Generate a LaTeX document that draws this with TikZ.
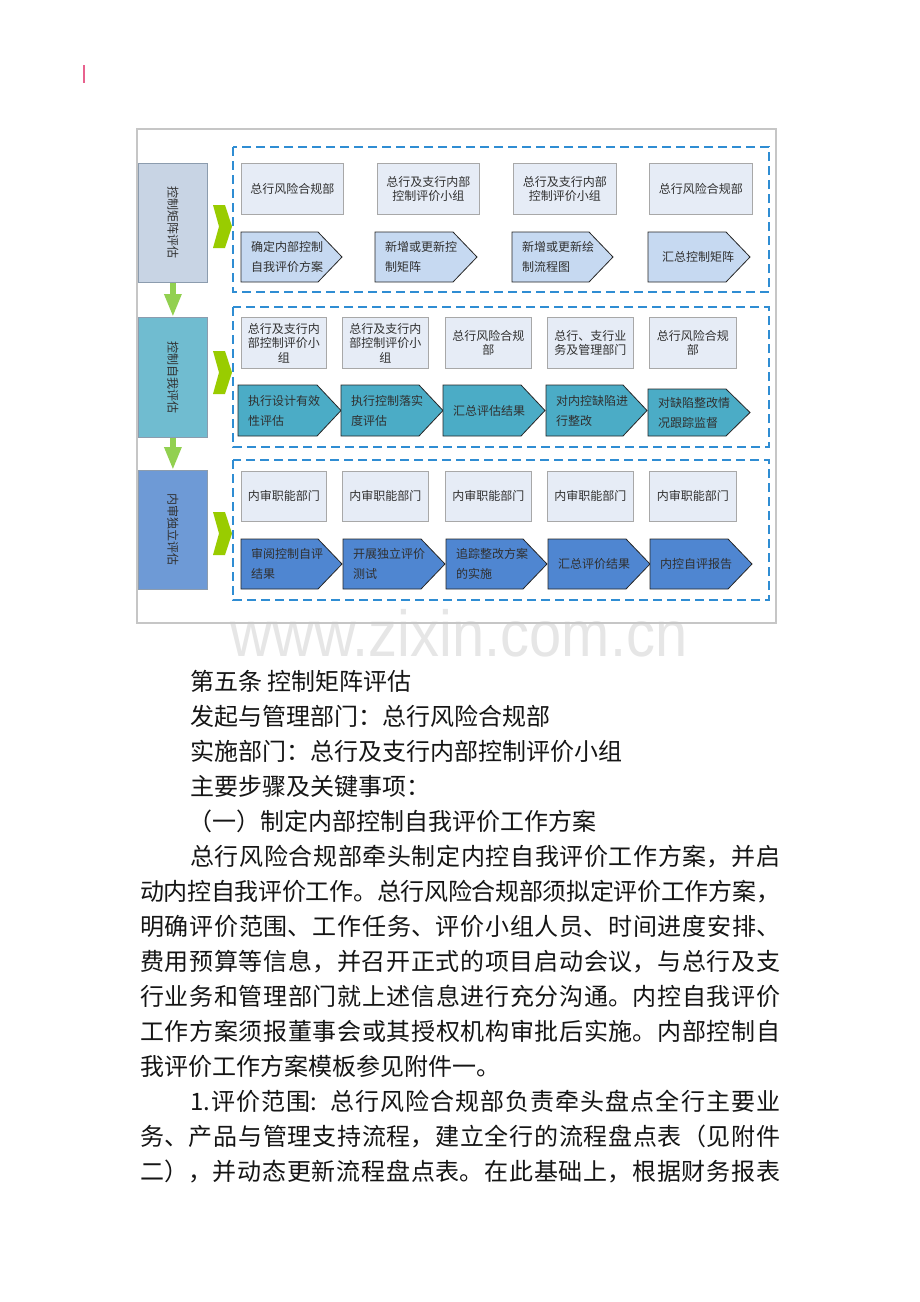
\documentclass[tikz,border=0pt]{standalone}
\usepackage{fontspec}
\setmainfont{Noto Sans CJK SC}
\newfontfamily\wmfont{Liberation Sans}
\usepackage{xcolor}
\usetikzlibrary{arrows.meta,positioning}
\XeTeXlinebreaklocale "zh"

\definecolor{framegray}{HTML}{C6C6C6}
\definecolor{groupblue}{HTML}{2F8DD3}
\definecolor{stagefillA}{HTML}{C8D4E4}
\definecolor{stagefillB}{HTML}{70BCD0}
\definecolor{stagefillC}{HTML}{6E9AD6}
\definecolor{stageline}{HTML}{8C9CAE}
\definecolor{gochevgreen}{HTML}{99CC00}
\definecolor{downgreen}{HTML}{92D050}
\definecolor{deptfill}{HTML}{E6ECF6}
\definecolor{deptline}{HTML}{A8A8A8}
\definecolor{chevfillA}{HTML}{C6D9F1}
\definecolor{chevfillB}{HTML}{4BACC6}
\definecolor{chevfillC}{HTML}{4F86D1}
\definecolor{chevline}{HTML}{262626}
\definecolor{txtgray}{HTML}{303030}
\definecolor{bodyblack}{HTML}{151515}
\definecolor{wmgray}{HTML}{E6E6E6}
\definecolor{markred}{HTML}{E8628E}

% pentagon step: name, left x, top y, width, height, fill, text
\newcommand{\stepchev}[7]{%
  \draw[fill=#6, draw=chevline, line width=0.8pt]
    (#2,#3) -- ++(#4-24,0) -- ++(24,#5/2) -- ++(-24,#5/2) -- ++(-#4+24,0) -- cycle;
  \node[steptext] (#1) at (#2+10,#3+#5/2) {#7};}
% green marker left of each group
\newcommand{\gochev}[2]{%
  \fill[gochevgreen] (#1,#2) -- ++(12,0) -- ++(7,21.5) -- ++(-7,21.5) -- ++(-12,0) -- ++(6,-21.5) -- cycle;}
% justified body line
\newcommand{\fullline}[2]{\parbox[b]{#1}{\linepenalty=5000\parfillskip=0pt
  \XeTeXlinebreakskip=0pt plus 1fil minus 0.6pt\relax #2}}

\begin{document}
\begin{tikzpicture}[x=1pt,y=-1pt]
  \tikzstyle{stagebox} = [rectangle, draw=stageline, line width=0.8pt, minimum width=69pt, minimum height=119pt, anchor=north west, inner sep=0pt]
  \tikzstyle{stagetext} = [rotate=-90, font=\fontsize{12}{12}\selectfont, text=txtgray]
  \tikzstyle{deptbox} = [rectangle, draw=deptline, fill=deptfill, line width=0.8pt, minimum height=51pt, anchor=north west, align=center, inner sep=0pt, font=\fontsize{12}{14.4}\selectfont, text=txtgray]
  \tikzstyle{steptext} = [anchor=west, align=left, inner sep=0pt, font=\fontsize{12}{20}\selectfont, text=txtgray]
  \tikzstyle{groupbox} = [draw=groupblue, line width=1.6pt, dash pattern=on 9pt off 5pt]
  \tikzstyle{downarrow} = [draw=downgreen, line width=6pt, -{Triangle[width=16pt,length=23pt]}]
  \tikzstyle{bodyline} = [anchor=base west, inner sep=0pt, font=\fontsize{24}{24}\selectfont, text=bodyblack]

  \useasboundingbox (0,0) rectangle (920,1302);
  \fill[white] (0,0) rectangle (920,1302);

  % watermark
  \node[anchor=base, inner sep=0pt, xscale=0.89, font=\wmfont\fontsize{65}{65}\selectfont, text=wmgray] (wm) at (459,656) {www.zixin.com.cn};

  \draw[markred, line width=2pt] (83.5,65) -- (83.5,83);
  \draw[framegray, line width=1.4pt] (137,129) rectangle (776,623);

  % groups
  \draw[groupbox] (233,147) rectangle (769,292);
  \draw[groupbox] (233,307) rectangle (769,447);
  \draw[groupbox] (233,460) rectangle (769,600);

  % stages
  \node[stagebox, fill=stagefillA] (stageA) at (138,163) {};
  \node[stagebox, fill=stagefillB, minimum height=120pt] (stageB) at (138,317) {};
  \node[stagebox, fill=stagefillC] (stageC) at (138,470) {};
  \node[stagetext] (stageAtxt) at (stageA.center) {控制矩阵评估};
  \node[stagetext] (stageBtxt) at (stageB.center) {控制自我评估};
  \node[stagetext] (stageCtxt) at (stageC.center) {内审独立评估};
  \draw[downarrow] (stageA.south) -- (stageB.north);
  \draw[downarrow] (stageB.south) -- (stageC.north);

  \gochev{213}{205}
  \gochev{213}{351}
  \gochev{213}{512}

  % row 1
  \node[deptbox, minimum width=102pt] (deptA1) at (241,163) {总行风险合规部};
  \node[deptbox, minimum width=102pt] (deptA2) at (377,163) {总行及支行内部\\控制评价小组};
  \node[deptbox, minimum width=103pt] (deptA3) at (513,163) {总行及支行内部\\控制评价小组};
  \node[deptbox, minimum width=103pt] (deptA4) at (649,163) {总行风险合规部};
  \stepchev{stepA1}{241}{232}{101}{50}{chevfillA}{确定内部控制\\自我评价方案}
  \stepchev{stepA2}{375}{232}{102}{50}{chevfillA}{新增或更新控\\制矩阵}
  \stepchev{stepA3}{512}{232}{101}{50}{chevfillA}{新增或更新绘\\制流程图}
  \stepchev{stepA4}{648}{232}{102}{50}{chevfillA}{\hspace{4pt}汇总控制矩阵}

  % row 2
  \node[deptbox, minimum width=85pt] (deptB1) at (241,317) {总行及支行内\\部控制评价小\\组};
  \node[deptbox, minimum width=86pt] (deptB2) at (342,317) {总行及支行内\\部控制评价小\\组};
  \node[deptbox, minimum width=86pt] (deptB3) at (445,317) {总行风险合规\\部};
  \node[deptbox, minimum width=86pt] (deptB4) at (547,317) {总行、支行业\\务及管理部门};
  \node[deptbox, minimum width=87pt] (deptB5) at (649,317) {总行风险合规\\部};
  \stepchev{stepB1}{238}{385}{103}{51}{chevfillB}{执行设计有效\\性评估}
  \stepchev{stepB2}{341}{385}{102}{51}{chevfillB}{执行控制落实\\度评估}
  \stepchev{stepB3}{443}{385}{102}{51}{chevfillB}{汇总评估结果}
  \stepchev{stepB4}{546}{385}{101}{51}{chevfillB}{对内控缺陷进\\行整改}
  \stepchev{stepB5}{648}{389}{102}{47}{chevfillB}{对缺陷整改情\\况跟踪监督}

  % row 3
  \node[deptbox, minimum width=85pt, minimum height=50pt] (deptC1) at (241,471) {内审职能部门};
  \node[deptbox, minimum width=86pt, minimum height=50pt] (deptC2) at (342,471) {内审职能部门};
  \node[deptbox, minimum width=86pt, minimum height=50pt] (deptC3) at (445,471) {内审职能部门};
  \node[deptbox, minimum width=86pt, minimum height=50pt] (deptC4) at (547,471) {内审职能部门};
  \node[deptbox, minimum width=87pt, minimum height=50pt] (deptC5) at (649,471) {内审职能部门};
  \stepchev{stepC1}{241}{539}{101}{50}{chevfillC}{审阅控制自评\\结果}
  \stepchev{stepC2}{343}{539}{102}{50}{chevfillC}{开展独立评价\\测试}
  \stepchev{stepC3}{446}{539}{101}{50}{chevfillC}{追踪整改方案\\的实施}
  \stepchev{stepC4}{548}{539}{102}{50}{chevfillC}{汇总评价结果}
  \stepchev{stepC5}{650}{539}{102}{50}{chevfillC}{内控自评报告}

  % body text
  \node[bodyline] (ln1) at (190,690) {第五条 控制矩阵评估};
  \node[bodyline] (ln2) at (190,725) {发起与管理部门：总行风险合规部};
  \node[bodyline] (ln3) at (190,760) {实施部门：总行及支行内部控制评价小组};
  \node[bodyline] (ln4) at (190,795) {主要步骤及关键事项：};
  \node[bodyline] (ln5) at (188,830) {（一）制定内部控制自我评价工作方案};
  \node[bodyline] (ln6) at (190,865) {\fullline{590pt}{总行风险合规部牵头制定内控自我评价工作方案，并启}};
  \node[bodyline] (ln7) at (140,900) {\fullline{640pt}{动内控自我评价工作。总行风险合规部须拟定评价工作方案，}};
  \node[bodyline] (ln8) at (140,935) {\fullline{640pt}{明确评价范围、工作任务、评价小组人员、时间进度安排、}};
  \node[bodyline] (ln9) at (140,970) {\fullline{640pt}{费用预算等信息，并召开正式的项目启动会议，与总行及支}};
  \node[bodyline] (ln10) at (140,1005) {\fullline{640pt}{行业务和管理部门就上述信息进行充分沟通。内控自我评价}};
  \node[bodyline] (ln11) at (140,1040) {\fullline{640pt}{工作方案须报董事会或其授权机构审批后实施。内部控制自}};
  \node[bodyline] (ln12) at (140,1075) {我评价工作方案模板参见附件一。};
  \node[bodyline] (ln13) at (190,1110) {\fullline{590pt}{1.评价范围:\hspace{6pt} 总行风险合规部负责牵头盘点全行主要业}};
  \node[bodyline] (ln14) at (140,1145) {\fullline{640pt}{务、产品与管理支持流程，建立全行的流程盘点表（见附件}};
  \node[bodyline] (ln15) at (140,1180) {\fullline{640pt}{二），并动态更新流程盘点表。在此基础上，根据财务报表}};
\end{tikzpicture}
\end{document}
